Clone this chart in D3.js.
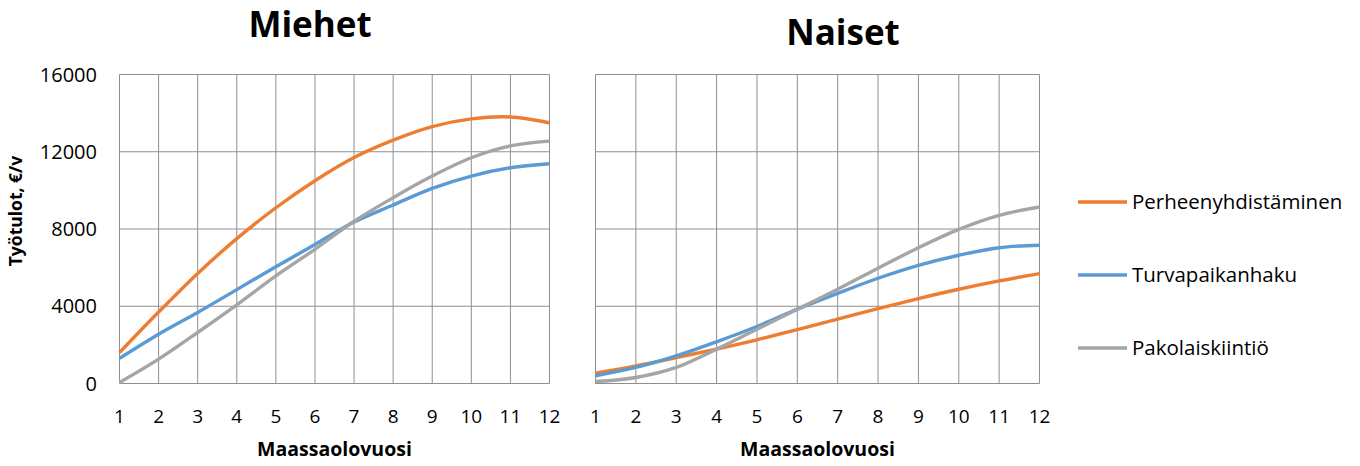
<!DOCTYPE html>
<html>
<head>
<meta charset="utf-8">
<script src="https://cdn.jsdelivr.net/npm/d3@7"></script>
<style>
  body { margin: 0; background: #fff; }
  text { font-family: "Open Sans", sans-serif; fill: #000; }
</style>
</head>
<body>
<svg id="chart" width="1360" height="466"></svg>
<script>
// data
const years = [1, 2, 3, 4, 5, 6, 7, 8, 9, 10, 11, 12]
const yTicks = [0, 4000, 8000, 12000, 16000]
const seriesNames = ["Perheenyhdistäminen", "Turvapaikanhaku", "Pakolaiskiintiö"]
const seriesColors = ["#ED7D31", "#5B9BD5", "#A5A5A5"]

const miehetPerhe = [1600, 3700, 5700, 7500, 9100, 10500, 11700, 12600, 13300, 13700, 13800, 13500]
const miehetTurva = [1300, 2550, 3680, 4860, 6050, 7200, 8360, 9240, 10100, 10740, 11170, 11380]
const miehetKiintio = [50, 1260, 2640, 4070, 5570, 6950, 8400, 9620, 10740, 11690, 12300, 12550]

const naisetPerhe = [530, 910, 1340, 1780, 2260, 2790, 3330, 3880, 4400, 4880, 5310, 5690]
const naisetTurva = [400, 830, 1430, 2160, 2950, 3850, 4670, 5450, 6120, 6640, 7030, 7160]
const naisetKiintio = [100, 310, 830, 1780, 2810, 3840, 4880, 5970, 7030, 7980, 8710, 9140]

const svg = d3.select("#chart")
const plotTop = 74.5, plotBottom = 383.5

function drawPanel(x0, x1, title, titleX, titleY, series, showY) {
  const x = d3.scaleLinear().domain([1, 12]).range([x0, x1])
  const y = d3.scaleLinear().domain([0, 16000]).range([plotBottom, plotTop])
  const g = svg.append("g")

  // grid
  g.selectAll(".hgrid").data(yTicks).enter().append("line")
    .attr("x1", x0).attr("x2", x1)
    .attr("y1", d => y(d)).attr("y2", d => y(d))
    .attr("stroke", "#8f8f8f").attr("stroke-width", 1)
  g.selectAll(".vgrid").data(years).enter().append("line")
    .attr("x1", d => x(d)).attr("x2", d => x(d))
    .attr("y1", plotTop).attr("y2", plotBottom)
    .attr("stroke", "#8f8f8f").attr("stroke-width", 1)

  // x tick labels
  g.selectAll(".xt").data(years).enter().append("text")
    .attr("x", d => x(d)).attr("y", 423)
    .attr("text-anchor", "middle")
    .style("font-size", "19px")
    .text(d => d)

  if (showY) {
    g.selectAll(".yt").data(yTicks).enter().append("text")
      .attr("x", 97).attr("y", d => y(d) + 7)
      .attr("text-anchor", "end")
      .style("font-size", "20px")
      .text(d => d)
  }

  const line = d3.line()
    .x((d, i) => x(years[i]))
    .y(d => y(d))
    .curve(d3.curveCatmullRom.alpha(0.5))

  series.forEach((s, i) => {
    g.append("path")
      .attr("d", line(s))
      .attr("fill", "none")
      .attr("stroke", seriesColors[i])
      .attr("stroke-width", 3.4)
  })

  g.append("text")
    .attr("x", titleX).attr("y", titleY)
    .attr("text-anchor", "middle")
    .style("font-size", "35px").style("font-weight", "bold")
    .text(title)

  g.append("text")
    .attr("x", (x0 + x1) / 2).attr("y", 456)
    .attr("text-anchor", "middle")
    .style("font-size", "19.5px").style("font-weight", "bold")
    .text("Maassaolovuosi")
}

drawPanel(119.5, 549.5, "Miehet", 310, 37, [miehetPerhe, miehetTurva, miehetKiintio], true)
drawPanel(595.5, 1039.5, "Naiset", 843, 45, [naisetPerhe, naisetTurva, naisetKiintio], false)

// y axis title
svg.append("text")
  .attr("transform", "translate(22,211) rotate(-90)")
  .attr("text-anchor", "middle")
  .style("font-size", "17.5px").style("font-weight", "bold")
  .text("Työtulot, €/v")

// legend
const legendY = [202, 275, 348]
const legend = svg.selectAll(".legend").data(seriesNames).enter().append("g")
  .attr("transform", (d, i) => `translate(1078,${legendY[i]})`)
legend.append("line")
  .attr("x1", 0).attr("x2", 49).attr("y1", 0).attr("y2", 0)
  .attr("stroke", (d, i) => seriesColors[i]).attr("stroke-width", 3.4)
legend.append("text")
  .attr("x", 54).attr("y", 7)
  .style("font-size", "20.5px")
  .text(d => d)
</script>
</body>
</html>
